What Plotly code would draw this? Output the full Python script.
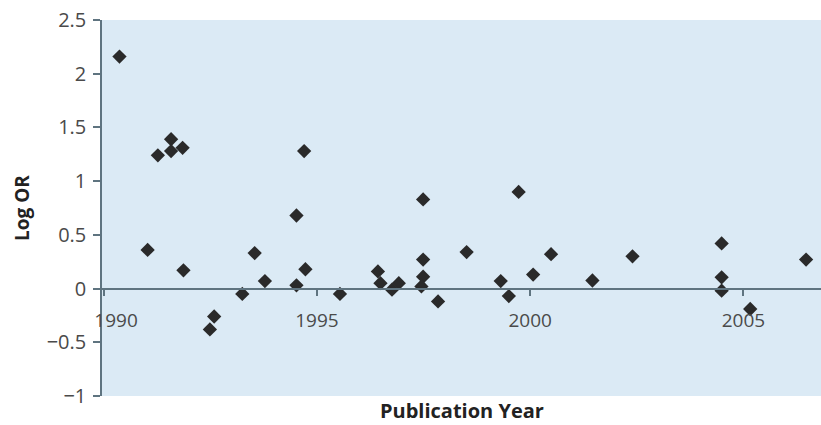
import plotly.graph_objects as go

# Publication year and Log OR of each study
years = [1990.37, 1991.03, 1991.27, 1991.58, 1991.58, 1991.85, 1991.87,
         1992.49, 1992.59, 1993.25, 1993.54, 1993.78, 1994.52, 1994.52,
         1994.70, 1994.73, 1995.54, 1996.43, 1996.49, 1996.76, 1996.92,
         1997.49, 1997.49, 1997.49, 1997.45, 1997.84, 1998.51, 1999.31,
         1999.50, 1999.73, 2000.07, 2000.49, 2001.46, 2002.40, 2004.49,
         2004.49, 2004.49, 2005.16, 2006.47]
log_or = [2.16, 0.36, 1.24, 1.39, 1.28, 1.31, 0.17,
          -0.38, -0.26, -0.05, 0.33, 0.07, 0.68, 0.03,
          1.28, 0.18, -0.05, 0.16, 0.05, -0.01, 0.05,
          0.83, 0.27, 0.11, 0.02, -0.12, 0.34, 0.07,
          -0.07, 0.90, 0.13, 0.32, 0.075, 0.30, 0.42,
          0.105, -0.02, -0.19, 0.27]

x_ticks = [1990, 1995, 2000, 2005]
x_tick_text = ["\u00a0\u00a0\u00a0\u00a0\u00a01990", "1995", "2000", "2005"]
y_ticks = [-1, -0.5, 0, 0.5, 1, 1.5, 2, 2.5]
y_tick_text = ["\u22121", "\u22120.5", "0", "0.5", "1", "1.5", "2", "2.5"]

axis_col = "#5f7480"
font_fam = "Open Sans, Lato, sans-serif"

fig = go.Figure()
fig.add_trace(go.Scatter(
    x=years, y=log_or, mode="markers",
    marker=dict(symbol="diamond", size=11, color="#2a2a2a", line=dict(width=0)),
    showlegend=False, hoverinfo="x+y"))

y_min, y_max = -1, 2.5
fig.update_layout(
    width=821, height=425,
    margin=dict(l=102, r=0, t=20, b=29),
    paper_bgcolor="#ffffff",
    plot_bgcolor="#dbeaf5",
    font=dict(family=font_fam, size=19, color="#444444"),
    xaxis=dict(
        range=[1989.96, 2006.82],
        anchor="free",
        position=(0 - y_min) / (y_max - y_min),
        showline=True, linecolor=axis_col, linewidth=1.5,
        ticks="outside", ticklen=7, tickcolor=axis_col, tickwidth=1.5,
        tickvals=x_ticks, ticktext=x_tick_text,
        ticklabelstandoff=8,
        showgrid=False, zeroline=False, automargin=False,
        tickfont=dict(size=19, color="#4a4a4a"),
    ),
    yaxis=dict(
        range=[y_min, y_max],
        showline=True, linecolor=axis_col, linewidth=1.5,
        ticks="outside", ticklen=7, tickcolor=axis_col, tickwidth=1.5,
        tickvals=y_ticks, ticktext=y_tick_text,
        ticklabelstandoff=3,
        showgrid=False, zeroline=False, automargin=False,
        tickfont=dict(size=20, color="#4a4a4a"),
    ),
    annotations=[
        dict(text="<b>Publication Year</b>", xref="paper", yref="paper",
             x=0.5, y=0, yshift=-14, xanchor="center", yanchor="middle",
             showarrow=False, font=dict(size=20, color="#222222", family=font_fam)),
        dict(text="<b>Log OR</b>", xref="paper", yref="paper",
             x=0, xshift=-80, y=0.5, xanchor="center", yanchor="middle",
             textangle=-90, showarrow=False,
             font=dict(size=19, color="#222222", family=font_fam)),
    ],
)

fig.write_html("out.html", config={"displayModeBar": False},
               post_script="document.body.style.margin='0';")
